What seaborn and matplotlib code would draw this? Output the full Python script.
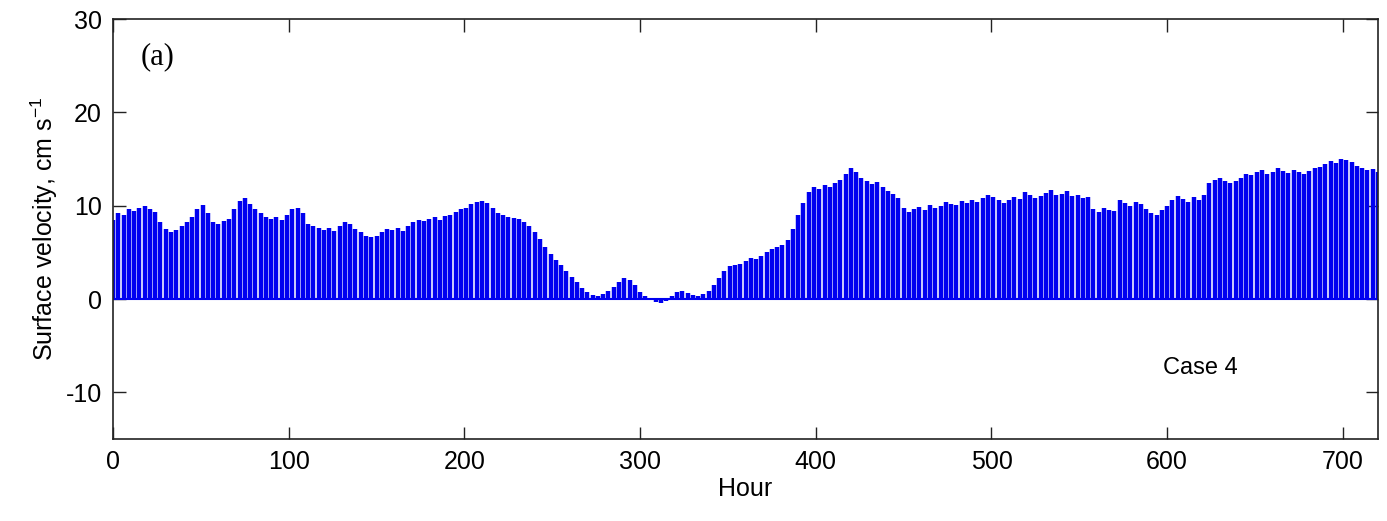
import numpy as np
import pandas as pd
import matplotlib
matplotlib.use("Agg")
import matplotlib.pyplot as plt
import seaborn as sns

# hourly stick series, sampled every 3 hours (northward velocity, cm/s)
hours = np.arange(0, 721, 3)
velocity = [
    8.5, 9.2, 9.0, 9.6, 9.4, 9.8, 10.0, 9.6, 9.3, 8.2,
    7.5, 7.2, 7.4, 7.8, 8.3, 8.8, 9.6, 10.1, 9.2, 8.3,
    8.0, 8.4, 8.6, 9.6, 10.5, 10.8, 10.2, 9.6, 9.2, 8.8,
    8.6, 8.8, 8.5, 9.0, 9.6, 9.8, 9.2, 8.0, 7.8, 7.6,
    7.4, 7.6, 7.3, 7.8, 8.2, 8.0, 7.5, 7.2, 6.8, 6.6,
    6.8, 7.2, 7.5, 7.4, 7.6, 7.3, 7.8, 8.2, 8.5, 8.4,
    8.6, 8.8, 8.5, 8.9, 9.0, 9.3, 9.6, 9.8, 10.2, 10.4,
    10.5, 10.3, 9.8, 9.2, 9.0, 8.8, 8.7, 8.6, 8.3, 7.8,
    7.2, 6.4, 5.6, 4.8, 4.2, 3.6, 3.0, 2.4, 1.8, 1.2,
    0.7, 0.4, 0.3, 0.5, 0.9, 1.3, 1.8, 2.2, 2.0, 1.5,
    0.8, 0.3, 0.0, -0.3, -0.4, -0.2, 0.3, 0.8, 0.9, 0.6,
    0.4, 0.3, 0.5, 0.9, 1.5, 2.3, 3.0, 3.5, 3.6, 3.8,
    4.1, 4.4, 4.3, 4.6, 5.0, 5.4, 5.6, 5.8, 6.3, 7.5,
    9.0, 10.3, 11.5, 12.0, 11.8, 12.2, 12.0, 12.4, 12.8, 13.4,
    14.0, 13.6, 13.0, 12.6, 12.3, 12.5, 12.0, 11.6, 11.3, 10.8,
    9.8, 9.3, 9.6, 9.9, 9.5, 10.1, 9.8, 10.0, 10.4, 10.2,
    10.1, 10.5, 10.3, 10.6, 10.4, 10.8, 11.2, 10.9, 10.6, 10.3,
    10.6, 10.9, 10.7, 11.5, 11.2, 10.8, 11.0, 11.4, 11.7, 11.2,
    11.3, 11.6, 11.0, 11.2, 10.8, 10.9, 9.6, 9.3, 9.8, 9.5,
    9.4, 10.6, 10.3, 10.0, 10.4, 10.2, 9.6, 9.2, 9.0, 9.5,
    10.0, 10.6, 11.0, 10.7, 10.4, 10.9, 10.6, 11.2, 12.4, 12.8,
    13.0, 12.7, 12.4, 12.6, 13.0, 13.4, 13.3, 13.6, 13.8, 13.4,
    13.6, 14.0, 13.7, 13.5, 13.8, 13.6, 13.4, 13.7, 14.0, 14.2,
    14.5, 14.8, 14.6, 15.0, 14.9, 14.7, 14.3, 14.0, 13.8, 13.9,
    13.6,
]
x_ticks = [0, 100, 200, 300, 400, 500, 600, 700]
y_ticks = [-10, 0, 10, 20, 30]

# each stick is a segment from (hour, 0) to (hour, v)
rows = []
for i, (h, v) in enumerate(zip(hours, velocity)):
    rows.append({"stick": i, "hour": h, "v": 0.0})
    rows.append({"stick": i, "hour": h, "v": v})
sticks = pd.DataFrame(rows)

sns.set_style("ticks")
plt.rcParams["font.family"] = ["Liberation Sans", "DejaVu Sans"]
plt.rcParams["axes.unicode_minus"] = False
plt.rcParams["mathtext.default"] = "regular"

fig = plt.figure(figsize=(13.87, 5.21), dpi=100)
ax = fig.add_axes([0.0815, 0.1574, 0.912, 0.806])

sns.lineplot(data=sticks, x="hour", y="v", units="stick", estimator=None,
             sort=False, color="#0000f0", lw=3.2, solid_capstyle="butt", ax=ax)
ax.axhline(0, color="#0000f0", lw=1.5)

ax.set_xlim(0, 720)
ax.set_ylim(-15, 30)
ax.set_xticks(x_ticks)
ax.set_yticks(y_ticks)
ax.tick_params(direction="in", length=9, width=1, labelsize=18, pad=8,
               top=True, right=True, colors="#222222", labelcolor="black")
for s in ax.spines.values():
    s.set_linewidth(1.2)
    s.set_color("#222222")

ax.set_xlabel("Hour", fontsize=18, labelpad=2, color="black")
ax.set_ylabel("Surface velocity, cm s$^{-1}$", fontsize=18, labelpad=4,
              color="black")

ax.text(0.022, 0.91, "(a)", transform=ax.transAxes, fontsize=22,
        family=["Liberation Serif", "DejaVu Serif"], va="center", color="black")
ax.text(0.83, 0.17, "Case 4", transform=ax.transAxes, fontsize=17,
        va="center", color="black")

fig.savefig("out.png", dpi=100)
